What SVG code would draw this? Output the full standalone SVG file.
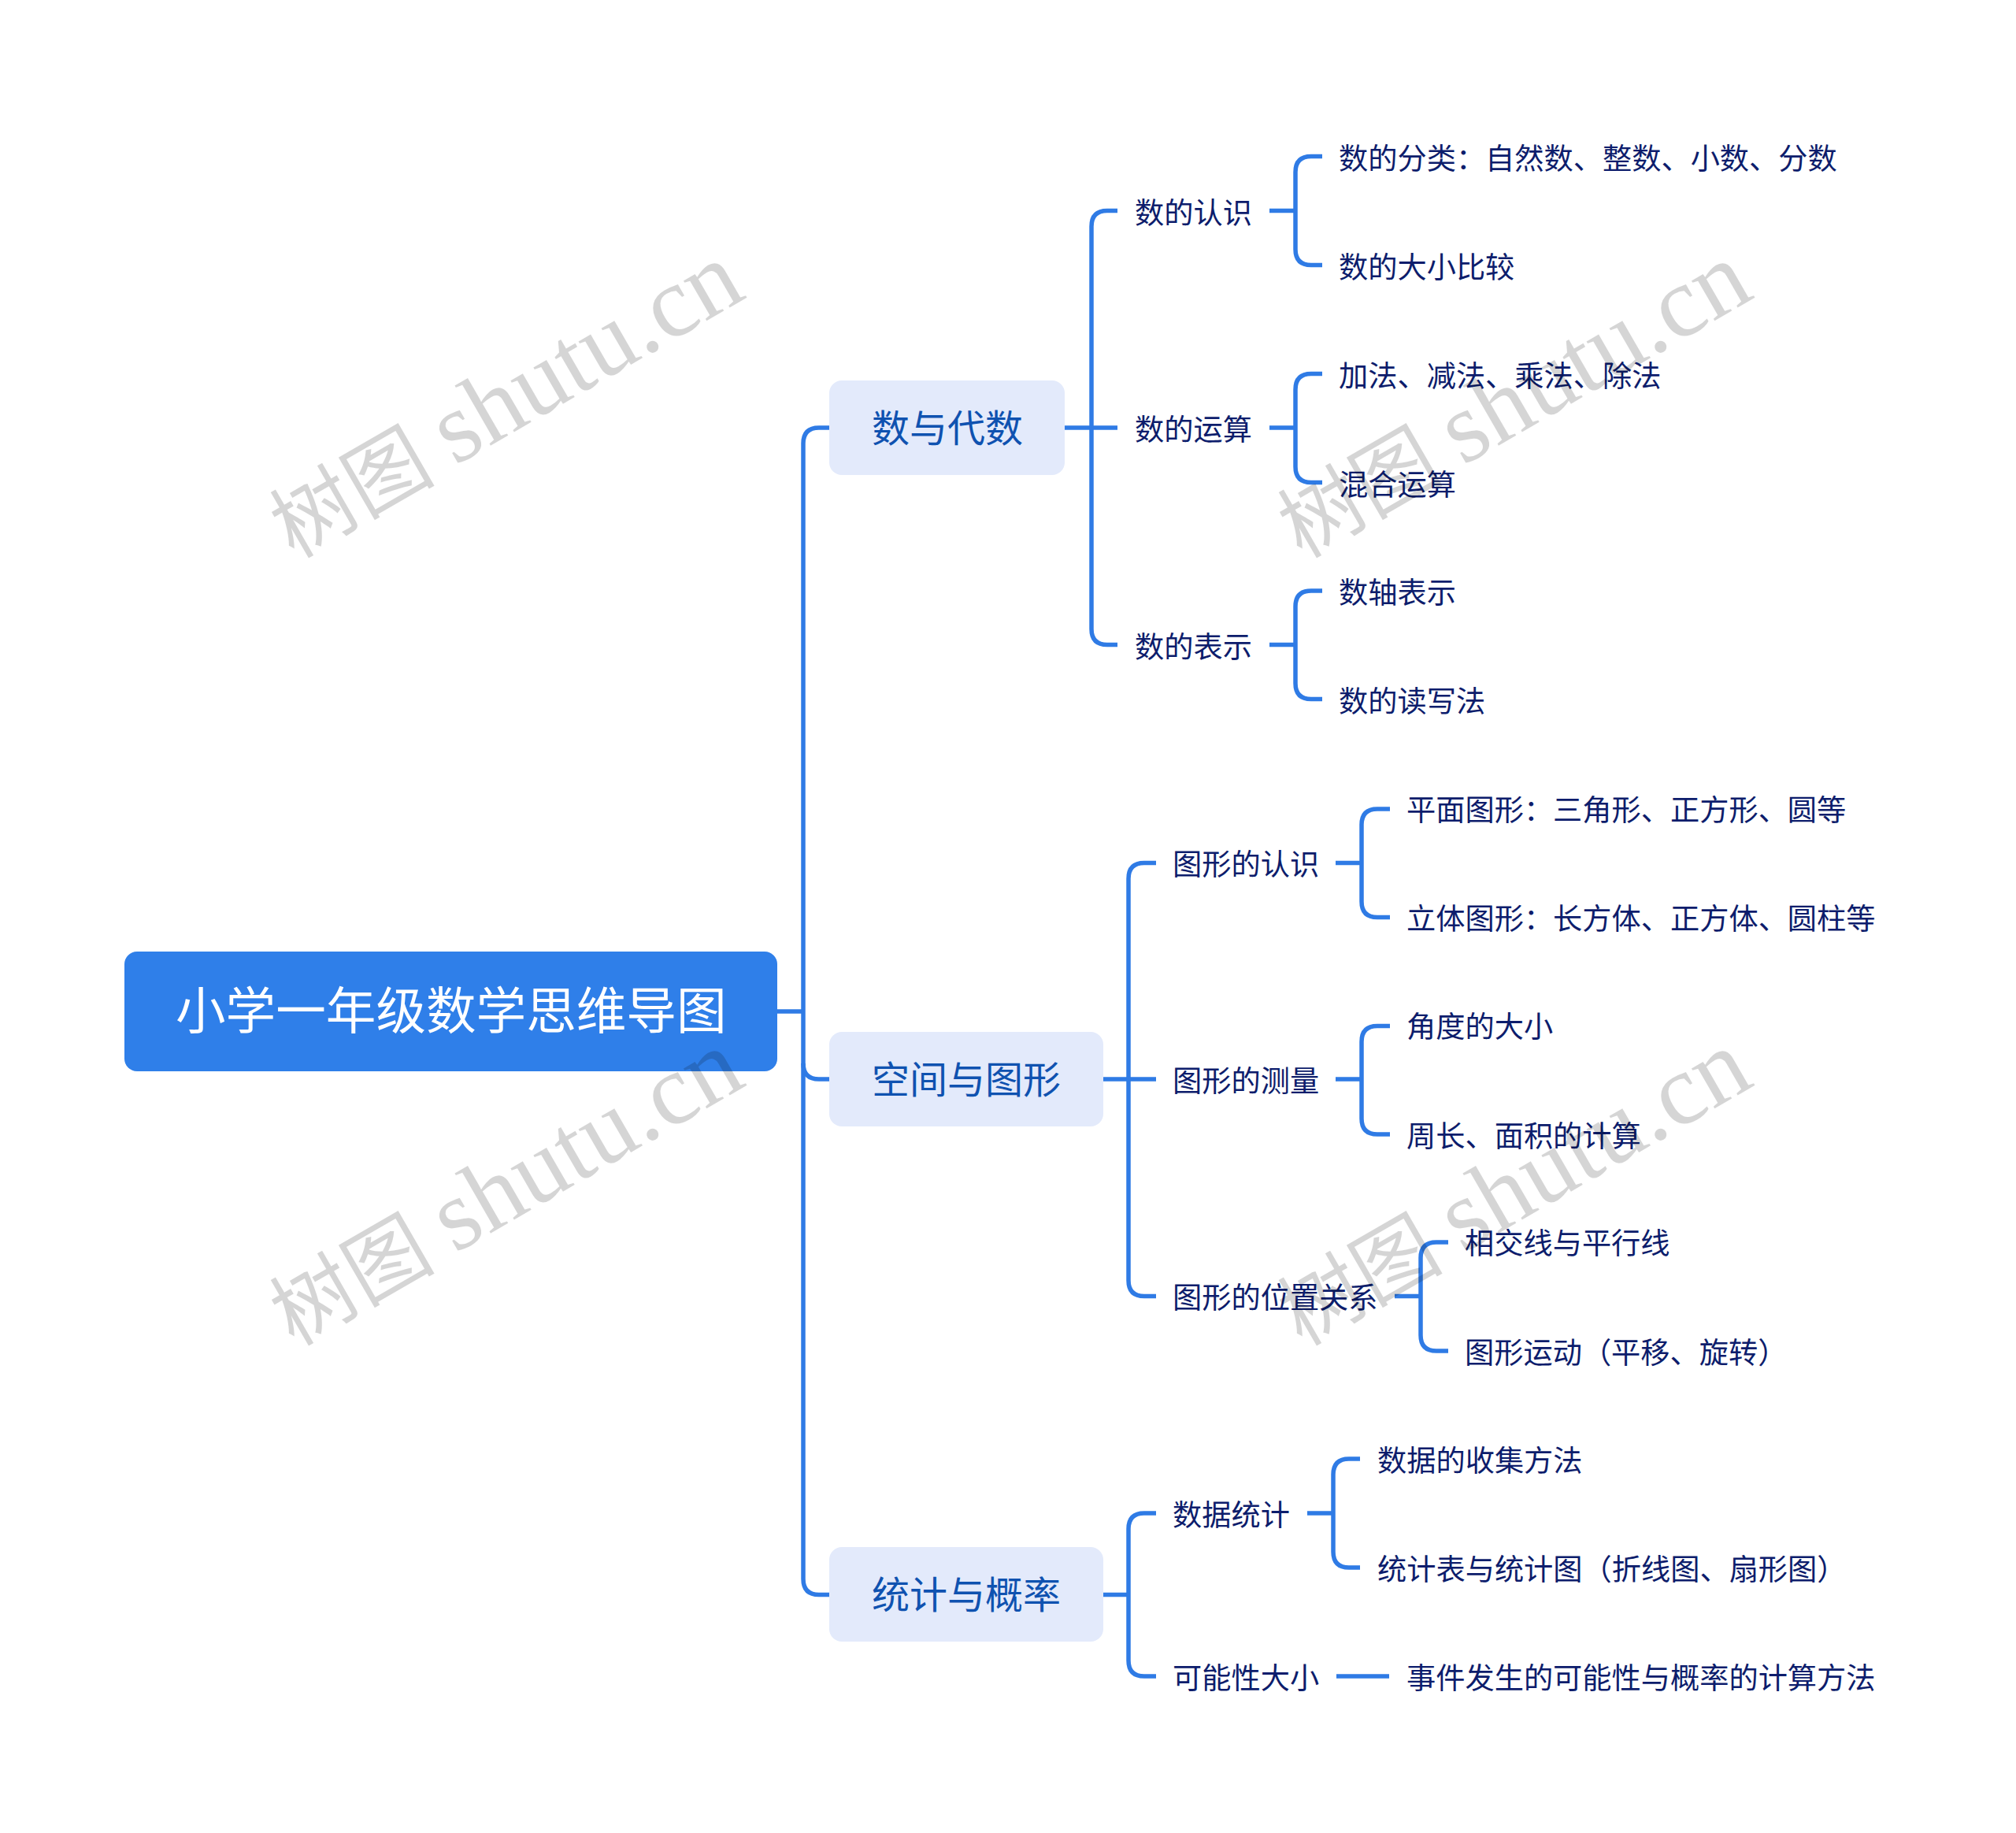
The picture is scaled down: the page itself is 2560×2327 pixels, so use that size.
<svg xmlns="http://www.w3.org/2000/svg" width="2560" height="2327" viewBox="0 0 2560 2327">
<style>
text{font-family:"Noto Sans CJK SC","Liberation Sans",sans-serif}
.c{fill:none;stroke:#2f7be5;stroke-width:5.5;stroke-linecap:butt}
.t{font-size:37.22px;fill:#0d1d6c;font-weight:400}
.l1{font-size:48px;fill:#0f52b0;font-weight:400}
.b1{fill:#e3eafb}
.w{font-family:"Liberation Serif","Noto Sans CJK SC",serif;font-size:128px;fill:#000;fill-opacity:.165}
.wc{font-size:105px;font-weight:400}
</style>
<rect width="2560" height="2327" fill="#fff"/>
<g id="connectors">
<path class="c" d="M987 1284H1020"/>
<path class="c" d="M1053 543H1040Q1020 543 1020 563V2004.500Q1020 2024.500 1040 2024.500H1053"/>
<path class="c" d="M1020 1350Q1020 1370 1040 1370H1053"/>
<path class="c" d="M1352 543H1419"/>
<path class="c" d="M1419 267.500H1406Q1386 267.500 1386 287.500V798.500Q1386 818.500 1406 818.500H1419"/>
<path class="c" d="M1612 267.500H1645M1679 198.500H1665Q1645 198.500 1645 218.500V316.500Q1645 336.500 1665 336.500H1679"/>
<path class="c" d="M1612 543H1645M1679 474.500H1665Q1645 474.500 1645 494.500V592.500Q1645 612.500 1665 612.500H1679"/>
<path class="c" d="M1612 818.500H1645M1679 750H1665Q1645 750 1645 770V867.500Q1645 887.500 1665 887.500H1679"/>
<path class="c" d="M1401 1370H1468"/>
<path class="c" d="M1468 1095.500H1453Q1433 1095.500 1433 1115.500V1625.500Q1433 1645.500 1453 1645.500H1468"/>
<path class="c" d="M1696 1095.500H1729M1765 1027H1749Q1729 1027 1729 1047V1144.500Q1729 1164.500 1749 1164.500H1765"/>
<path class="c" d="M1696 1370H1729M1765 1302.500H1749Q1729 1302.500 1729 1322.500V1420Q1729 1440 1749 1440H1765"/>
<path class="c" d="M1771 1645.500H1804M1839 1577H1824Q1804 1577 1804 1597V1695Q1804 1715 1824 1715H1839"/>
<path class="c" d="M1401 2024.500H1433"/>
<path class="c" d="M1468 1921H1453Q1433 1921 1433 1941V2108Q1433 2128 1453 2128H1468"/>
<path class="c" d="M1660 1921H1693M1727 1852H1713Q1693 1852 1693 1872V1970Q1693 1990 1713 1990H1727"/>
<path class="c" d="M1697 2128H1764"/>
</g>
<g id="root"><rect x="158" y="1208" width="829" height="152" rx="16" fill="#2f7fe9"/><text x="223" y="1306" font-size="63.600" fill="#fff" font-weight="400">小学一年级数学思维导图</text></g>
<g id="n1"><rect class="b1" x="1053" y="483" width="299" height="120" rx="16"/><text class="l1" x="1107" y="561">数与代数</text></g>
<g id="n2"><rect class="b1" x="1053" y="1310" width="348" height="120" rx="16"/><text class="l1" x="1107" y="1388">空间与图形</text></g>
<g id="n3"><rect class="b1" x="1053" y="1964" width="348" height="120" rx="16"/><text class="l1" x="1107" y="2042">统计与概率</text></g>
<g id="n11"><text class="t" x="1441" y="284">数的认识</text></g>
<g id="n111"><text class="t" x="1700" y="215">数的分类：自然数、整数、小数、分数</text></g>
<g id="n112"><text class="t" x="1700" y="353">数的大小比较</text></g>
<g id="n12"><text class="t" x="1441" y="559">数的运算</text></g>
<g id="n121"><text class="t" x="1700" y="491">加法、减法、乘法、除法</text></g>
<g id="n122"><text class="t" x="1700" y="629">混合运算</text></g>
<g id="n13"><text class="t" x="1441" y="835">数的表示</text></g>
<g id="n131"><text class="t" x="1700" y="765.500">数轴表示</text></g>
<g id="n132"><text class="t" x="1700" y="904">数的读写法</text></g>
<g id="n21"><text class="t" x="1489" y="1111">图形的认识</text></g>
<g id="n211"><text class="t" x="1786" y="1041.500">平面图形：三角形、正方形、圆等</text></g>
<g id="n212"><text class="t" x="1786" y="1180">立体图形：长方体、正方体、圆柱等</text></g>
<g id="n22"><text class="t" x="1489" y="1385.500">图形的测量</text></g>
<g id="n221"><text class="t" x="1786" y="1317">角度的大小</text></g>
<g id="n222"><text class="t" x="1786" y="1455.500">周长、面积的计算</text></g>
<g id="n23"><text class="t" x="1489" y="1661">图形的位置关系</text></g>
<g id="n231"><text class="t" x="1860" y="1592">相交线与平行线</text></g>
<g id="n232"><text class="t" x="1860" y="1730.500">图形运动（平移、旋转）</text></g>
<g id="n31"><text class="t" x="1489" y="1937">数据统计</text></g>
<g id="n311"><text class="t" x="1749" y="1868">数据的收集方法</text></g>
<g id="n312"><text class="t" x="1749" y="2006">统计表与统计图（折线图、扇形图）</text></g>
<g id="n32"><text class="t" x="1489" y="2143.500">可能性大小</text></g>
<g id="n321"><text class="t" x="1786" y="2143.500">事件发生的可能性与概率的计算方法</text></g>
<g id="watermarks">
<text class="w" transform="translate(373 710) rotate(-30)"><tspan class="wc">树图 </tspan>shutu.cn</text>
<text class="w" transform="translate(1653 710) rotate(-30)"><tspan class="wc">树图 </tspan>shutu.cn</text>
<text class="w" transform="translate(373 1710) rotate(-30)"><tspan class="wc">树图 </tspan>shutu.cn</text>
<text class="w" transform="translate(1653 1710) rotate(-30)"><tspan class="wc">树图 </tspan>shutu.cn</text>
</g>
</svg>
